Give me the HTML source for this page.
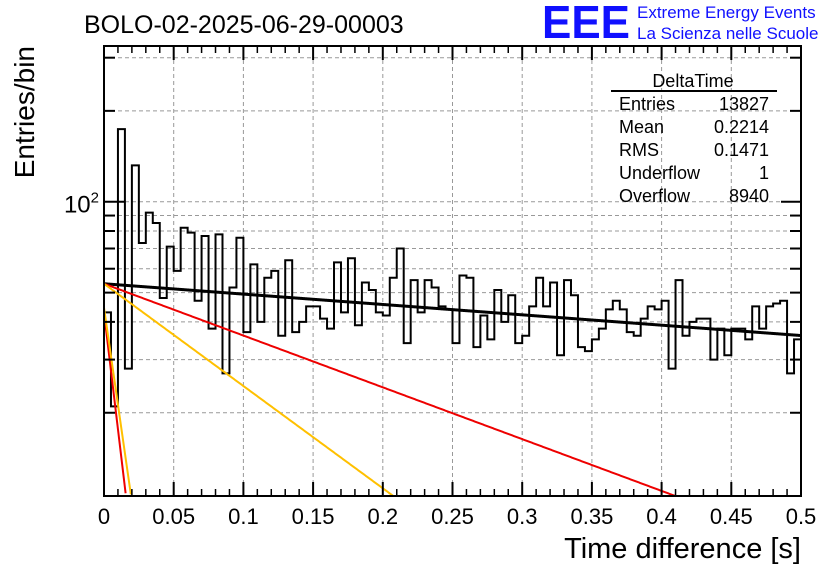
<!DOCTYPE html>
<html><head><meta charset="utf-8"><style>
html,body{margin:0;padding:0;background:#fff;}
svg{display:block;font-family:"Liberation Sans",sans-serif;}
</style></head><body>
<svg id="c" width="836" height="572" viewBox="0 0 836 572">
<rect x="0" y="0" width="836" height="572" fill="#fff"/>
<text x="84" y="33" font-size="25">BOLO-02-2025-06-29-00003</text>
<g>
<text x="542" y="38" font-size="46" fill="#1010ff" font-weight="bold" textLength="88" lengthAdjust="spacingAndGlyphs">EEE</text>
<text x="637" y="18" font-size="17" fill="#1010ff">Extreme Energy Events</text>
<text x="637" y="39" font-size="17" fill="#1010ff">La Scienza nelle Scuole</text>
</g>
<g id="grid"></g><g id="marks"></g><g id="axes"></g>
<text x="801" y="558" font-size="29" text-anchor="end">Time difference [s]</text>
<text transform="translate(34,46) rotate(-90)" font-size="28" text-anchor="end">Entries/bin</text>
<g font-size="18">
<text x="693" y="87" text-anchor="middle">DeltaTime</text>
<line x1="611" y1="91" x2="777" y2="91" stroke="#000" stroke-width="2"/>
<text x="619" y="110">Entries</text><text x="769" y="110" text-anchor="end">13827</text>
<text x="619" y="133">Mean</text><text x="769" y="133" text-anchor="end">0.2214</text>
<text x="619" y="156">RMS</text><text x="769" y="156" text-anchor="end">0.1471</text>
<text x="619" y="179">Underflow</text><text x="769" y="179" text-anchor="end">1</text>
<text x="619" y="202">Overflow</text><text x="769" y="202" text-anchor="end">8940</text>
</g>
</svg>
<script>
const counts=[43,21,174,28,132,73,92,85,48,71,59,82,79,47,77,38,78,27,52,76,37,62,40,56,59,36,64,37,40,45,45,41,38,63,43,65,39,54,51,43,42,56,70,34,55,43,55,52,45,44,34,57,56,33,42,35,51,40,49,34,36,45,56,45,54,31,55,49,33,32,35,38,44,47,44,37,36,41,45,44,47,28,55,36,40,41,41,30,38,31,38,38,35,45,38,45,46,47,27,35];
const xTicks=[0,0.05,0.1,0.15,0.2,0.25,0.3,0.35,0.4,0.45,0.5];
const xTickLabels=["0","0.05","0.1","0.15","0.2","0.25","0.3","0.35","0.4","0.45","0.5"];
const yTicks=[20,30,40,50,60,70,80,90,100,200,300];
const fitAmp=[53.5,53.5,53.5,43,44.6];
const fitSlope=[0.79,3.95,7.8,89,74];
const fitColor=["#000","#e00","#ffc000","#e00","#ffc000"];
const fitNames=["fit-total","fit-red-slow","fit-yellow-slow","fit-red-fast","fit-yellow-fast"];
const X0=104,X1=801,Y0=46,Y1=496,xmin=0,xmax=0.5,ymin=10.6,ymax=328;
const sx=v=>X0+(v-xmin)/(xmax-xmin)*(X1-X0);
const sy=v=>Y1-(Math.log10(v)-Math.log10(ymin))/(Math.log10(ymax)-Math.log10(ymin))*(Y1-Y0);
const NS="http://www.w3.org/2000/svg";
function mk(t,a,p){const e=document.createElementNS(NS,t);for(const k in a)e.setAttribute(k,a[k]);p.appendChild(e);return e;}
const grid=document.getElementById('grid'),marks=document.getElementById('marks'),axes=document.getElementById('axes');
xTicks.forEach((v,i)=>{const x=sx(v);
 if(i>0&&i<xTicks.length-1){const g=mk('line',{x1:x,y1:Y0,x2:x,y2:Y1,stroke:'#999','stroke-dasharray':'4,3'},grid);
 
 }
 mk('line',{x1:x,y1:Y1,x2:x,y2:Y1-14,stroke:'#000','stroke-width':2},axes);
 mk('line',{x1:x,y1:Y0,x2:x,y2:Y0+14,stroke:'#000','stroke-width':2},axes);
 const t=mk('text',{x:x,y:524,'font-size':22,'text-anchor':'middle'},axes);t.textContent=xTickLabels[i];
 
 
 if(i<xTicks.length-1)for(let k=1;k<5;k++){const xm=sx(v+k*0.01);
  mk('line',{x1:xm,y1:Y1,x2:xm,y2:Y1-7,stroke:'#000','stroke-width':1.5},axes);
  mk('line',{x1:xm,y1:Y0,x2:xm,y2:Y0+7,stroke:'#000','stroke-width':1.5},axes);}
});
yTicks.forEach(v=>{const y=sy(v);const L=v==100?20:11;
 const g=mk('line',{x1:X0,y1:y,x2:X1,y2:y,stroke:'#999','stroke-dasharray':'4,3'},grid);
 
 
 mk('line',{x1:X0,y1:y,x2:X0+L,y2:y,stroke:'#000','stroke-width':2},axes);
 mk('line',{x1:X1,y1:y,x2:X1-L,y2:y,stroke:'#000','stroke-width':2},axes);
});
const yl=mk('text',{x:99,y:sy(100)+11,'font-size':24,'text-anchor':'end'},axes);


yl.innerHTML='10<tspan dy="-10" font-size="15">2</tspan>';
const bw=(xmax-xmin)/counts.length;let d='';
counts.forEach((c,i)=>{const xa=sx(i*bw),xb=sx((i+1)*bw),y=sy(c);d+=(i==0?'M'+xa+','+y:'L'+xa+','+y)+'L'+xb+','+y;});
const h=mk('path',{d:d,fill:'none',stroke:'#000','stroke-width':2},marks);


fitAmp.forEach((A,j)=>{let p='';for(let k=0;k<=2000;k++){const t=k/2000*0.5;const v=A*Math.exp(-fitSlope[j]*t);if(v<ymin)break;p+=(k?'L':'M')+sx(t)+','+sy(v);}
 const e=mk('path',{d:p,fill:'none',stroke:fitColor[j],'stroke-width':j==0?3:2},marks);
 
 });
const f=mk('rect',{x:X0,y:Y0,width:X1-X0,height:Y1-Y0,fill:'none',stroke:'#000','stroke-width':2},axes);


</script>
</body></html>
